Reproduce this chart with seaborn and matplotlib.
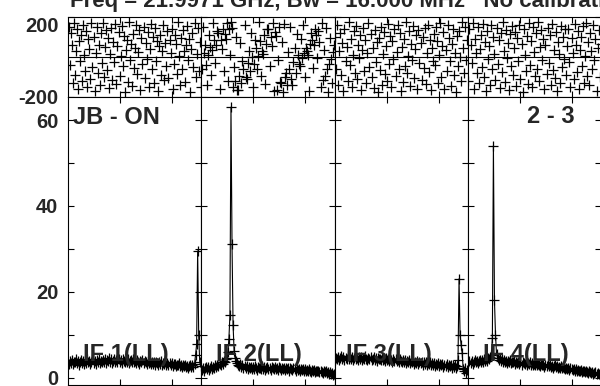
import numpy as np
import pandas as pd
import seaborn as sns
import matplotlib
matplotlib.use('Agg')
import matplotlib.pyplot as plt

sns.set_style('ticks')
plt.rcParams['font.family'] = ['Liberation Sans', 'DejaVu Sans']
plt.rcParams['font.weight'] = 'bold'

title = 'Freq = 21.9971 GHz, Bw = 16.000 MHz   No calibration'
baseline_name = 'JB - ON'
antennas = '2 - 3'
if_names = ['IF 1(LL)', 'IF 2(LL)', 'IF 3(LL)', 'IF 4(LL)']
n_chan = 256

# amplitude, one value every 2nd channel
amp_if1 = [3.2, 3.9, 3.4, 4.0, 3.1, 3.7, 3.5, 4.2, 3.3, 3.8, 3.0, 3.6, 4.1, 3.4, 3.9, 3.2,
           3.8, 3.3, 4.2, 3.5, 3.9, 3.1, 3.7, 4.3, 3.4, 3.8, 3.2, 4.0, 3.6, 4.4, 3.3, 3.9,
           3.5, 4.1, 3.7, 4.4, 3.4, 4.0, 3.8, 4.5, 3.6, 4.2, 3.3, 3.9, 4.3, 3.7, 4.1, 3.5,
           4.2, 3.6, 4.0, 3.4, 4.4, 3.8, 3.5, 4.1, 3.7, 4.3, 3.3, 3.9, 4.0, 3.6, 4.2, 3.5,
           3.9, 3.4, 4.1, 3.7, 3.2, 3.8, 3.5, 4.0, 3.3, 3.9, 3.6, 3.1, 3.8, 3.4, 3.7, 3.2,
           3.6, 3.1, 3.5, 2.9, 3.7, 3.3, 3.0, 3.6, 3.2, 3.8, 2.9, 3.4, 3.1, 3.5, 3.0, 3.3,
           2.8, 3.3, 2.9, 3.4, 2.7, 3.1, 3.2, 2.6, 3.0, 2.8, 3.3, 2.7, 3.0, 2.5, 2.9, 2.6,
           2.8, 2.4, 2.7, 2.3, 2.6, 2.9, 2.5, 2.8, 2.5, 3.2, 5.3, 7.7, 29.5, 10.0, 3.5, 2.7]
amp_if2 = [1.8, 2.3, 1.6, 2.1, 2.5, 1.9, 2.4, 1.7, 2.2, 2.6, 2.0, 2.5, 2.2, 2.8, 2.4, 3.0,
           2.7, 3.2, 2.9, 3.5, 3.1, 3.8, 3.6, 4.3, 4.6, 6.0, 9.0, 14.6, 63.0, 31.0, 12.3, 6.2,
           4.5, 3.8, 3.4, 3.0, 2.7, 3.1, 2.5, 2.8, 2.3, 2.7, 2.2, 2.6, 2.0, 2.4, 2.1, 2.5,
           1.9, 2.4, 2.0, 2.6, 2.2, 1.8, 2.5, 2.1, 2.3, 1.9, 2.6, 2.0, 2.4, 1.8, 2.2, 2.5,
           2.0, 2.3, 1.7, 2.4, 2.1, 1.9, 2.5, 2.0, 2.2, 1.8, 2.4, 2.1, 1.7, 2.3, 2.0, 2.2,
           1.8, 2.3, 1.9, 2.1, 1.6, 2.2, 2.0, 1.7, 2.3, 1.9, 1.6, 2.1, 1.8, 2.0, 1.5, 1.9,
           1.7, 2.0, 1.5, 1.9, 1.6, 1.8, 1.4, 1.9, 1.6, 1.3, 1.8, 1.5, 1.7, 1.3, 1.6, 1.4,
           1.5, 1.2, 1.6, 1.3, 1.1, 1.5, 1.2, 1.4, 1.0, 1.3, 0.9, 1.2, 0.8, 1.0, 0.7, 0.9]
amp_if3 = [4.0, 4.6, 4.2, 4.8, 4.1, 4.5, 4.9, 4.3, 4.7, 4.0, 4.6, 4.4, 5.0, 4.2, 4.7, 4.3,
           4.8, 4.1, 4.5, 4.9, 4.2, 4.6, 4.0, 4.7, 4.3, 4.8, 4.1, 4.5, 4.2, 4.9, 4.4, 4.0,
           4.6, 4.2, 4.7, 4.0, 4.4, 4.8, 4.1, 4.5, 3.9, 4.6, 4.2, 4.4, 4.0, 4.7, 4.1, 4.3,
           3.9, 4.5, 4.0, 4.3, 3.8, 4.4, 4.1, 3.7, 4.2, 3.9, 4.4, 3.8, 4.1, 3.6, 4.2, 3.9,
           3.5, 4.0, 3.7, 4.1, 3.4, 3.9, 3.6, 4.0, 3.3, 3.8, 3.5, 3.9, 3.2, 3.7, 3.4, 3.8,
           3.1, 3.6, 3.3, 3.7, 3.0, 3.5, 3.2, 3.6, 2.9, 3.4, 3.1, 3.5, 2.8, 3.3, 3.0, 3.4,
           2.7, 3.2, 2.9, 3.3, 2.6, 3.1, 2.8, 3.2, 2.5, 3.0, 2.7, 3.1, 2.4, 2.9, 2.6, 3.0,
           2.3, 2.8, 2.5, 2.9, 2.2, 2.6, 4.1, 23.0, 9.9, 7.6, 5.7, 2.0, 1.5, 2.2, 1.0, 1.7]
amp_if4 = [3.3, 3.8, 3.4, 3.9, 3.2, 3.7, 4.0, 3.5, 3.9, 3.3, 3.8, 4.1, 3.6, 4.0, 3.5, 4.2,
           3.8, 4.3, 3.9, 4.5, 4.2, 4.8, 5.2, 9.2, 54.0, 18.0, 10.0, 5.4, 4.6, 4.1, 4.5, 3.9,
           4.2, 3.7, 4.0, 3.5, 3.9, 3.4, 3.8, 3.6, 4.0, 3.3, 3.7, 3.5, 3.9, 3.2, 3.6, 3.4,
           3.7, 3.2, 3.5, 3.0, 3.6, 3.3, 3.1, 3.5, 2.9, 3.4, 3.2, 3.6, 3.0, 3.3, 2.8, 3.2,
           3.0, 3.3, 2.8, 3.2, 2.9, 2.6, 3.1, 2.8, 3.0, 2.5, 2.9, 2.7, 3.1, 2.6, 2.8, 2.4,
           2.7, 2.3, 2.6, 2.9, 2.4, 2.7, 2.2, 2.5, 2.3, 2.6, 2.1, 2.4, 2.2, 2.0, 2.3, 1.9,
           2.1, 1.8, 2.2, 1.9, 1.7, 2.0, 1.6, 1.9, 1.5, 1.8, 1.6, 1.4, 1.7, 1.3, 1.6, 1.4,
           1.2, 1.5, 1.3, 1.1, 1.4, 1.2, 1.0, 1.3, 0.9, 1.1, 1.2, 0.8, 1.0, 0.9, 0.7, 1.0]

# phase (deg), 128 samples across each IF
phase_if1 = [150, -40, 120, 60, -130, 170, -90, 30, 140, -160, 80, -20, 110, -120, 160, 10,
             -70, 130, -150, 90, 40, -110, 170, -50, 100, -170, 20, 150, -80, 60, -140, 120,
             -30, 170, -100, 50, 135, -65, 95, -155, 15, 145, -115, 75, -25, 165, -135, 55,
             125, -95, 5, 155, -45, 105, -175, 35, 85, -125, 175, -15, 65, -145, 115, -55,
             45, 160, -85, 25, 135, -165, 95, -35, 150, -105, 70, -10, 125, -150, 40, 165,
             -60, 100, -130, 145, -20, 80, -170, 55, 110, -90, 30, 160, -115, 70, -45, 130,
             -105, 85, 20, 140, -160, -35, 110, 65, -85, 175, 5, -140, 95, -60, 135, 30,
             -125, 60, 155, -15, 90, -175, 40, 120, -50, 170, -100, 15, 145, -70, 75, -150]
phase_if2 = [-60, 150, 20, 60, -40, -140, 10, 110, 50, -90, 35, 170, 85, -30, 60, 130,
             120, -160, 85, 40, 140, -70, 115, 90, 170, -120, 140, 10, 175, 145, -150, -50,
             -120, 100, -165, -165, -95, 70, -130, -20, -60, 160, -100, -110, -30, 30, -70, 120,
             0, -150, -35, 85, 45, -60, 5, 175, 80, -95, 30, 15, 110, -135, 65, 140,
             140, -45, 100, 55, 170, -170, 125, 105, -165, -15, 150, -125, -130, 75, -175, 165,
             -100, -80, -140, 25, -60, 150, -110, -140, -25, 45, -80, 115, 10, -35, -45, 90,
             -5, 160, 20, -100, 45, 30, 10, -170, 65, 120, 85, -55, 60, 140, 110, -5,
             130, 75, -150, 170, -115, 35, -95, 145, -60, -175, -35, 95, -10, -130, 25, 60]
phase_if3 = [100, -60, 160, -140, 30, 120, -90, 70, -170, 140, -20, 50, -120, 175, -40, 90,
             -150, 10, 130, -80, 155, -110, 60, -5, 110, -165, 35, 145, -70, 85, -130, 20,
             170, -50, 115, -100, 45, -155, 135, -25, 75, -175, 95, -65, 150, -140, 15, 125,
             -85, 55, -120, 165, -35, 105, -150, 80, -10, 140, -95, 25, 160, -60, 120, -170,
             50, -125, 90, -45, 175, -80, 5, 130, -145, 65, -15, 155, -105, 40, 110, -160,
             135, -30, 70, -115, 100, -55, 145, -135, 20, 160, -75, 85, -165, 45, -20, 115,
             -40, 150, 80, -130, 10, 170, -100, 55, 125, -160, 35, -70, 160, 95, -20, -145,
             65, 140, -90, 20, -175, 105, -45, 130, 0, -120, 175, 45, -80, 150, -15, 85]
phase_if4 = [-120, 140, 60, -30, 170, -160, 90, 20, -80, 150, -130, 40, 110, -50, 165, -100,
             75, -170, 130, -10, 55, -140, 160, -60, 100, 15, -115, 145, -35, 85, -155, 120,
             -75, 175, 30, -125, 135, -5, 70, -165, 115, -45, 155, -90, 45, 125, -145, 95,
             -20, 160, -110, 65, -175, 140, 10, -70, 105, -135, 170, -40, 80, -150, 150, 25,
             -95, 120, -60, 175, -120, 50, 135, -15, 90, -160, 60, -85, 145, -30, 110, -140,
             165, -65, 35, -105, 125, -170, 75, 15, -130, 155, -50, 100, -10, 140, -90, 55,
             140, -25, -150, 95, 20, -110, 165, 60, -75, 130, -160, 35, 100, -45, 155, -130,
             5, 170, -95, 75, -140, 120, 30, -60, 160, -15, 90, -170, 45, 135, -100, 65]

amp_all = [amp_if1, amp_if2, amp_if3, amp_if4]
phase_all = [phase_if1, phase_if2, phase_if3, phase_if4]

amp_df = pd.concat([pd.DataFrame({'IF': name, 'chan': np.arange(len(a)) * 2 + 1, 'amp': a})
                    for name, a in zip(if_names, amp_all)])
phase_df = pd.concat([pd.DataFrame({'IF': name,
                                    'chan': (np.arange(len(p)) + 0.5) * n_chan / len(p),
                                    'phase': p})
                      for name, p in zip(if_names, phase_all)])

W, H = 600, 386
fig = plt.figure(figsize=(W / 100, H / 100), dpi=100)
x0, pw = 68, 133.3

for k, name in enumerate(if_names):
    left = (x0 + k * pw) / W
    axp = fig.add_axes([left, 1 - 97 / H, pw / W, 80 / H])
    axa = fig.add_axes([left, 1 - 384.5 / H, pw / W, 287.5 / H])

    sub_p = phase_df[phase_df['IF'] == name]
    sns.scatterplot(data=sub_p, x='chan', y='phase', ax=axp, marker='+', color='k',
                    s=60, linewidth=0.9, legend=False)
    axp.axhline(0, color='k', lw=0.8)
    axp.set_xlim(0, n_chan)
    axp.set_ylim(-200, 200)
    axp.set_xticks([100, 200])
    axp.set_xticklabels([])
    axp.set_yticks([-200, 200])

    sub_a = amp_df[amp_df['IF'] == name]
    sns.lineplot(data=sub_a, x='chan', y='amp', ax=axa, color='k', lw=0.8,
                 marker='+', markersize=7, mew=0.9, mec='k', estimator=None, sort=False)
    axa.set_xlim(0, n_chan)
    axa.set_ylim(-1.63, 65.36)
    axa.set_xticks([100, 200])
    axa.set_xticklabels([])
    axa.set_yticks([0, 20, 40, 60])
    axa.set_yticks([10, 30, 50], minor=True)

    for ax in (axp, axa):
        ax.set_xlabel('')
        ax.set_ylabel('')
        ax.tick_params(which='both', direction='in', top=True, right=True,
                       length=4.5, width=0.8, color='k', pad=7, labelsize=14.5)
        for s in ax.spines.values():
            s.set_linewidth(0.8)
            s.set_color('k')
    if k == 0:
        axp.set_yticklabels(['-200', '200'], fontweight='bold')
        axp.get_yticklabels()[1].set_va('top')
        axa.set_yticklabels(['0', '20', '40', '60'], fontweight='bold')
        axa.get_yticklabels()[0].set_va('center_baseline')
    else:
        axp.set_yticklabels([])
        axa.set_yticklabels([])

    dx = 11 if k == 2 else 15
    fig.text((x0 + k * pw + dx) / W, 1 - 361 / H, name, fontsize=17,
             fontweight='bold', va='baseline', ha='left')

fig.text(70 / W, 1 - 7 / H, title, fontsize=16, fontweight='bold', va='baseline')
fig.text(73 / W, 1 - 124 / H, baseline_name, fontsize=17, fontweight='bold', va='baseline')
fig.text(527 / W, 1 - 123 / H, antennas, fontsize=17, fontweight='bold', va='baseline')

fig.savefig('out.png', dpi=100)
